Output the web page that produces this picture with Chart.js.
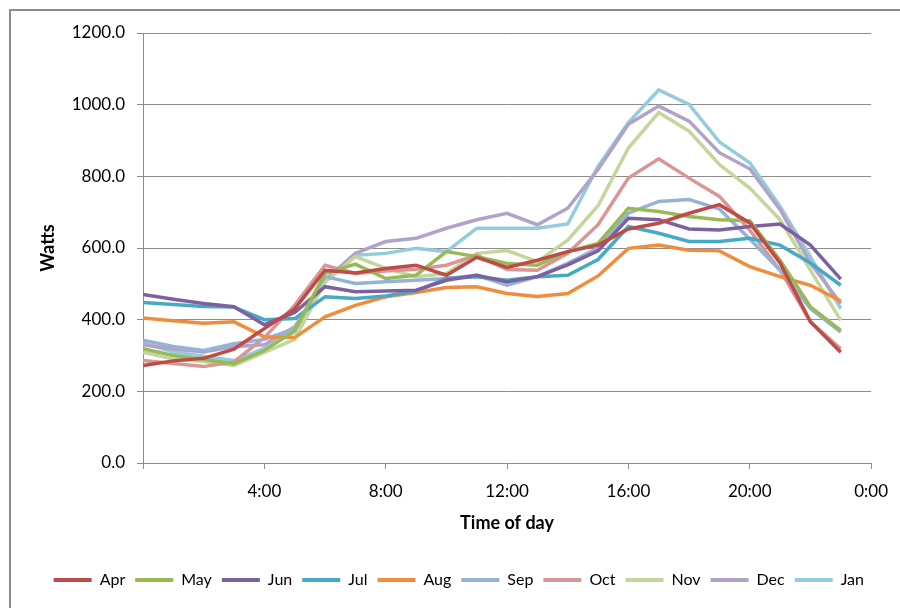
<!DOCTYPE html>
<html>
<head>
<meta charset="utf-8">
<script src="https://cdn.jsdelivr.net/npm/chart.js@4"></script>
<style>
  html, body { margin: 0; padding: 0; background: #fff; }
  #wrap { position: relative; width: 900px; height: 608px; overflow: hidden; }
  #frame { position: absolute; left: 9px; top: 9px; width: 1000px; height: 700px; border: 2px solid #8c8c8c; }
  canvas { position: absolute; left: 0; top: 0; }
</style>
</head>
<body>
<div id="wrap">
  <div id="frame"></div>
  <canvas id="chart" width="900" height="608"></canvas>
</div>
<script>
// hourly readings, 0:00 .. 23:00
const hours = [0, 1, 2, 3, 4, 5, 6, 7, 8, 9, 10, 11, 12, 13, 14, 15, 16, 17, 18, 19, 20, 21, 22, 23];

const apr = [272, 285, 292, 318, 375, 430, 538, 530, 543, 552, 524, 574, 546, 566, 590, 608, 653, 669, 697, 721, 670, 558, 394, 309];
const may = [319, 300, 289, 277, 314, 370, 529, 555, 515, 524, 590, 576, 557, 552, 590, 613, 711, 702, 688, 679, 676, 566, 436, 370];
const jun = [470, 457, 445, 436, 386, 420, 492, 478, 480, 482, 510, 524, 506, 520, 553, 592, 683, 679, 653, 650, 660, 667, 608, 513];
const jul = [448, 442, 437, 435, 400, 403, 464, 459, 466, 480, 515, 520, 510, 520, 524, 568, 660, 641, 618, 618, 627, 608, 558, 496];
const aug = [405, 397, 390, 394, 352, 350, 408, 440, 464, 476, 490, 492, 473, 465, 473, 522, 599, 608, 594, 592, 548, 520, 496, 452];
const sep = [343, 325, 314, 333, 345, 375, 520, 501, 506, 510, 515, 524, 496, 520, 557, 600, 697, 730, 735, 709, 625, 538, 431, 365];
const oct = [286, 278, 269, 282, 350, 440, 552, 529, 536, 541, 552, 580, 540, 538, 585, 665, 795, 849, 795, 744, 650, 538, 394, 319];
const nov = [309, 290, 283, 272, 309, 345, 505, 576, 543, 520, 529, 585, 593, 562, 622, 718, 879, 978, 926, 833, 767, 679, 538, 398];
const dec = [330, 318, 310, 325, 330, 380, 510, 585, 618, 627, 655, 679, 697, 665, 711, 819, 945, 996, 954, 866, 821, 707, 558, 445];
const jan = [335, 310, 298, 286, 320, 365, 505, 580, 585, 599, 590, 655, 655, 655, 667, 828, 950, 1041, 1001, 896, 838, 716, 576, 431];

const months = ["Apr", "May", "Jun", "Jul", "Aug", "Sep", "Oct", "Nov", "Dec", "Jan"];
const series = [apr, may, jun, jul, aug, sep, oct, nov, dec, jan];
const colors = ["#BE4B48", "#98B954", "#7D60A0", "#46AAC5", "#F18C3A", "#95B3D7", "#D99694", "#C3D69B", "#B3A2C7", "#93CDDD"];

// x axis: hours, labelled every 4h
const xTickValues = [0, 4, 8, 12, 16, 20, 24];
const xTickLabels = ["", "4:00", "8:00", "12:00", "16:00", "20:00", "0:00"];

const FONT = "Lato";
const GREY = "#8c8c8c";

const datasets = months.map((m, i) => ({
  label: m,
  data: series[i].map((v, h) => ({ x: hours[h], y: v })),
  borderColor: colors[i],
  backgroundColor: colors[i],
  borderWidth: 3.5,
  pointRadius: 0,
  tension: 0,
  fill: false,
}));

new Chart(document.getElementById("chart"), {
  type: "line",
  data: { datasets },
  options: {
    responsive: false,
    animation: false,
    layout: { padding: { top: 33, right: 26, left: 0, bottom: 10 } },
    plugins: {
      tooltip: { enabled: false },
      legend: {
        position: "bottom",
        align: "end",
        labels: {
          font: { family: FONT, size: 16 },
          color: "#000",
          boxWidth: 38,
          boxHeight: 4,
          padding: 10,
          generateLabels: (chart) =>
            chart.data.datasets.map((ds, i) => ({
              text: ds.label,
              fillStyle: ds.borderColor,
              strokeStyle: ds.borderColor,
              lineWidth: 0,
              datasetIndex: i,
            })),
        },
      },
    },
    scales: {
      x: {
        type: "linear",
        min: 0,
        max: 24,
        afterBuildTicks: (scale) => {
          scale.ticks = xTickValues.map((v) => ({ value: v }));
        },
        afterFit: (scale) => {
          scale.height = 99;
        },
        ticks: {
          autoSkip: false,
          maxRotation: 0,
          padding: 12,
          color: "#000",
          font: { family: FONT, size: 17 },
          callback: (v) => xTickLabels[xTickValues.indexOf(v)] ?? "",
        },
        grid: {
          drawOnChartArea: false,
          drawTicks: true,
          tickLength: 6,
          color: GREY,
        },
        border: { color: GREY, width: 1 },
        title: {
          display: true,
          text: "Time of day",
          color: "#000",
          font: { family: FONT, size: 18, weight: "bold" },
          padding: { top: 4, bottom: 28 },
        },
      },
      y: {
        min: 0,
        max: 1200,
        afterFit: (scale) => {
          scale.width = 143;
        },
        ticks: {
          stepSize: 200,
          padding: 12,
          color: "#000",
          font: { family: FONT, size: 17 },
          callback: (v) => v.toFixed(1),
        },
        grid: {
          color: GREY,
          tickLength: 6,
        },
        border: { color: GREY, width: 1 },
        title: {
          display: true,
          text: "Watts",
          color: "#000",
          font: { family: FONT, size: 18, weight: "bold" },
          padding: { top: 37, bottom: 0 },
        },
      },
    },
  },
});
</script>
</body>
</html>
